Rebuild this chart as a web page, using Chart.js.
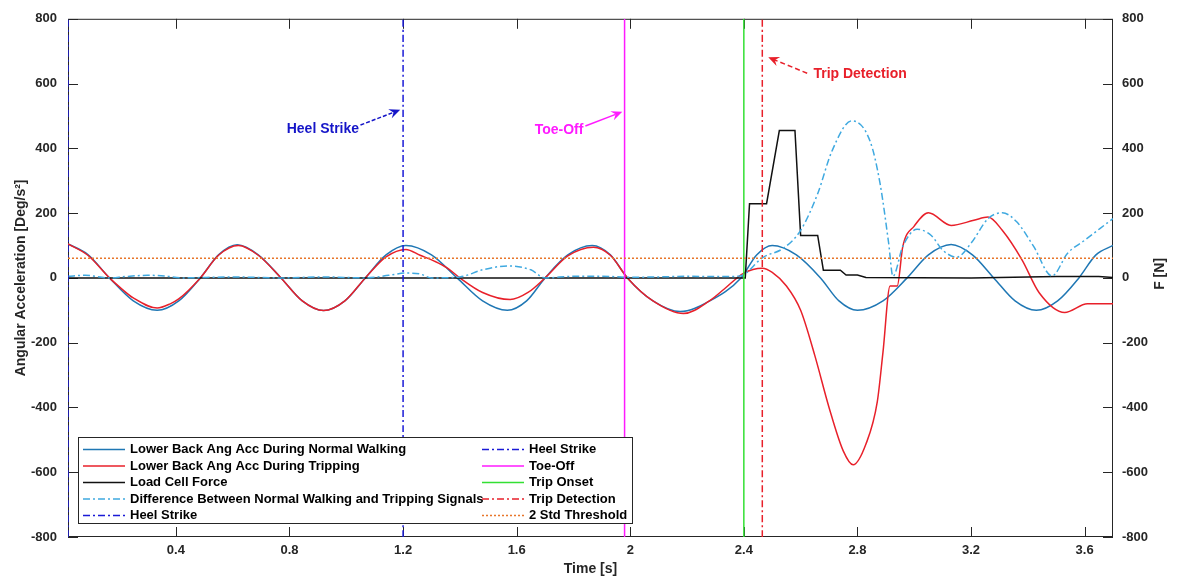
<!DOCTYPE html>
<html>
<head>
<meta charset="utf-8">
<script src="https://cdn.jsdelivr.net/npm/chart.js@4.4.1/dist/chart.umd.min.js"></script>
<style>
  html, body { margin: 0; padding: 0; background: #fff; }
  canvas { display: block; }
</style>
</head>
<body>
<canvas id="gaitChart" width="1178" height="581"></canvas>
<script>
// axis limits and ticks
const timeMin = 0.02;
const timeMax = 3.7;
const yMin = -800;
const yMax = 800;
const timeTicks = [0.4, 0.8, 1.2, 1.6, 2, 2.4, 2.8, 3.2, 3.6];

// lower back angular acceleration, normal walking
const normalTime = [0.02, 0.09, 0.166, 0.25, 0.334, 0.41, 0.486, 0.55, 0.616, 0.69, 0.77, 0.845, 0.92, 0.995,
  1.067, 1.14, 1.21, 1.30, 1.39, 1.48, 1.567, 1.635, 1.70, 1.78, 1.866, 1.93, 1.99, 2.08, 2.176, 2.28, 2.39,
  2.445, 2.50, 2.585, 2.67, 2.735, 2.80, 2.89, 2.975, 3.05, 3.13, 3.205, 3.28, 3.355, 3.43, 3.505, 3.58, 3.64, 3.70];
const normalAcc = [105, 72, 0, -71, -100, -71, 0, 71, 102, 71, 0, -71, -101, -71,
  0, 71, 100, 71, 0, -71, -100, -71, 0, 71, 100, 71, 0, -71, -104, -71, 0,
  71, 100, 71, 0, -71, -100, -71, 0, 71, 103, 71, 0, -71, -100, -71, 0, 71, 100];

// lower back angular acceleration, tripping
const tripTime = [0.02, 0.09, 0.166, 0.204, 0.25, 0.334, 0.38, 0.41, 0.486, 0.55, 0.62, 0.69, 0.77, 0.845, 0.92, 0.995,
  1.067, 1.14, 1.21, 1.26, 1.31, 1.355, 1.40, 1.48, 1.577, 1.64, 1.70, 1.78, 1.87, 1.93, 1.99, 2.08, 2.187, 2.28, 2.33,
  2.40, 2.465, 2.50, 2.55, 2.60, 2.65, 2.70, 2.75, 2.785, 2.83, 2.87, 2.89, 2.915, 2.94, 2.96, 3.00, 3.05, 3.13, 3.21, 3.26,
  3.31, 3.38, 3.44, 3.53, 3.61, 3.70];
const tripAcc = [105, 70, 0, -30, -62, -93, -80, -65, 0, 70, 100, 70, 0, -71, -101, -71,
  0, 65, 88, 70, 52, 31, 0, -45, -67, -45, 0, 68, 95, 70, 0, -71, -110, -70, -35,
  15, 30, 17, -25, -100, -240, -400, -534, -577, -513, -382, -229, -25, -25, 98, 160, 201, 162, 178, 188,
  147, 55, -46, -107, -80, -80];

// load cell force [N]
const forceTime = [0.02, 2.405, 2.42, 2.48, 2.525, 2.58, 2.60, 2.66, 2.68, 2.74, 2.76, 2.80, 2.83, 3.2, 3.5, 3.65, 3.70];
const forceN = [0, 0, 229, 229, 455, 455, 131, 131, 24, 24, 9, 9, 1, 0, 4, 4, 1];

// difference between normal walking and tripping
const diffTime = [0.02, 0.08, 0.166, 0.22, 0.30, 0.36, 0.42, 0.60, 0.77, 0.92, 1.067, 1.15, 1.21, 1.26, 1.30, 1.40,
  1.48, 1.57, 1.65, 1.70, 1.80, 1.90, 2.0, 2.1, 2.2, 2.3, 2.38, 2.40, 2.465, 2.54, 2.60, 2.66, 2.71, 2.78, 2.845,
  2.88, 2.91, 2.925, 2.96, 3.01, 3.06, 3.10, 3.15, 3.20, 3.26, 3.31, 3.36, 3.42, 3.485, 3.54, 3.60, 3.655, 3.70];
const diffAcc = [5, 8, 0, 4, 8, 6, 0, 3, 0, 3, 0, 8, 15, 12, 0, 3,
  25, 37, 25, 0, 5, 5, 2, 3, 5, 4, 5, 10, 62, 92, 147, 260, 391, 485, 421,
  290, 107, 5, 98, 150, 131, 86, 64, 107, 183, 201, 174, 98, 6, 76, 116, 153, 183];

// gait events [s] and threshold
const heelStrikeTimes = [0.02, 1.2];
const toeOffTime = 1.98;
const tripOnsetTime = 2.40;
const tripDetectionTime = 2.465;
const thresholdValue = 61;

const FONT = 'Arial, "Liberation Sans", sans-serif';
const AXIS_COLOR = '#262626';

function toPoints(xs, ys) {
  return xs.map((x, i) => ({ x, y: ys[i] }));
}

function vline(t) {
  return [{ x: t, y: yMin }, { x: t, y: yMax }];
}

function series(label, data, color, extra) {
  return Object.assign({
    label,
    data,
    borderColor: color,
    backgroundColor: color,
    borderWidth: 1.5,
    pointRadius: 0,
    fill: false,
    cubicInterpolationMode: 'monotone'
  }, extra || {});
}

const datasets = [
  series('Lower Back Ang Acc During Normal Walking', toPoints(normalTime, normalAcc), '#1f77b4'),
  series('Lower Back Ang Acc During Tripping', toPoints(tripTime, tripAcc), '#e8202a'),
  series('Load Cell Force', toPoints(forceTime, forceN), '#111111', { yAxisID: 'y1', cubicInterpolationMode: 'default', tension: 0 }),
  series('Difference Between Normal Walking and Tripping Signals', toPoints(diffTime, diffAcc), '#3fa9e0', { borderDash: [7, 3, 2, 3] }),
  series('Heel Strike', vline(heelStrikeTimes[0]), '#1a1ad6', { borderDash: [7, 3, 2, 3], tension: 0 }),
  series('Heel Strike', vline(heelStrikeTimes[1]), '#1a1ad6', { borderDash: [7, 3, 2, 3], tension: 0 }),
  series('Toe-Off', vline(toeOffTime), '#ff1aff', { tension: 0 }),
  series('Trip Onset', vline(tripOnsetTime), '#33e033', { tension: 0 }),
  series('Trip Detection', vline(tripDetectionTime), '#e8202a', { borderDash: [7, 3, 2, 3], tension: 0 }),
  series('2 Std Threshold', [{ x: timeMin, y: thresholdValue }, { x: timeMax, y: thresholdValue }], '#e8762a', { borderDash: [2, 2], tension: 0 })
];
// later datasets drawn on top, like the original plot
datasets.forEach((d, i) => { d.order = datasets.length - i; });

// text callouts: [text, color, textX, textY, align, tailX, tailY, tipX, tipY, dashed]
const callouts = [
  ['Heel Strike', '#1515c8', 1.045, 460, 'right', 1.05, 472, 1.19, 519, [4, 2]],
  ['Toe-Off', '#ff1aff', 1.835, 457, 'right', 1.842, 469, 1.972, 513, null],
  ['Trip Detection', '#e8202a', 2.645, 629, 'left', 2.623, 632, 2.486, 681, [5, 3]]
];

function drawArrow(ctx, x0, y0, x1, y1, color, dash) {
  const ang = Math.atan2(y1 - y0, x1 - x0);
  const head = 12;
  ctx.strokeStyle = color;
  ctx.fillStyle = color;
  ctx.lineWidth = 1.5;
  ctx.setLineDash(dash || []);
  ctx.beginPath();
  ctx.moveTo(x0, y0);
  ctx.lineTo(x1 - Math.cos(ang) * head * 0.6, y1 - Math.sin(ang) * head * 0.6);
  ctx.stroke();
  ctx.setLineDash([]);
  ctx.beginPath();
  ctx.moveTo(x1, y1);
  ctx.lineTo(x1 - head * Math.cos(ang - 0.42), y1 - head * Math.sin(ang - 0.42));
  ctx.lineTo(x1 - head * 0.6 * Math.cos(ang), y1 - head * 0.6 * Math.sin(ang));
  ctx.lineTo(x1 - head * Math.cos(ang + 0.42), y1 - head * Math.sin(ang + 0.42));
  ctx.closePath();
  ctx.fill();
}

const decorPlugin = {
  id: 'decor',
  beforeDatasetsDraw(chart) {
    const { ctx, chartArea: a, scales } = chart;
    ctx.save();
    // axes box and inward ticks, under the data
    ctx.strokeStyle = AXIS_COLOR;
    ctx.lineWidth = 1;
    ctx.strokeRect(a.left + 0.5, a.top + 0.5, a.width - 1, a.height - 1);
    ctx.beginPath();
    scales.x.ticks.forEach((t) => {
      const px = Math.round(scales.x.getPixelForValue(t.value)) + 0.5;
      ctx.moveTo(px, a.bottom); ctx.lineTo(px, a.bottom - 10);
      ctx.moveTo(px, a.top); ctx.lineTo(px, a.top + 10);
    });
    scales.y.ticks.forEach((t) => {
      const py = Math.round(scales.y.getPixelForValue(t.value)) + 0.5;
      ctx.moveTo(a.left, py); ctx.lineTo(a.left + 10, py);
      ctx.moveTo(a.right, py); ctx.lineTo(a.right - 10, py);
    });
    ctx.stroke();
    ctx.restore();
  },
  afterDatasetsDraw(chart) {
    const { ctx, scales } = chart;
    const xs = scales.x, ys = scales.y;
    ctx.save();
    callouts.forEach(([text, color, tx, ty, align, ax, ay, bx, by, dash]) => {
      ctx.font = 'bold 14px ' + FONT;
      ctx.fillStyle = color;
      ctx.textAlign = align;
      ctx.textBaseline = 'middle';
      ctx.fillText(text, xs.getPixelForValue(tx), ys.getPixelForValue(ty));
      drawArrow(ctx, xs.getPixelForValue(ax), ys.getPixelForValue(ay),
        xs.getPixelForValue(bx), ys.getPixelForValue(by), color, dash);
    });
    ctx.restore();
  },
  afterDraw(chart) {
    const { ctx, chartArea: a } = chart;
    ctx.save();
    // right axis title, reading bottom to top
    ctx.font = 'bold 14px ' + FONT;
    ctx.fillStyle = AXIS_COLOR;
    ctx.textAlign = 'center';
    ctx.textBaseline = 'middle';
    ctx.translate(1160, (a.top + a.bottom) / 2 - 4);
    ctx.rotate(-Math.PI / 2);
    ctx.fillText('F [N]', 0, 0);
    ctx.setTransform(1, 0, 0, 1, 0, 0);

    // legend, two columns filled top to bottom
    const box = { left: 78, top: 437, right: 632, bottom: 523 };
    ctx.fillStyle = '#fff';
    ctx.fillRect(box.left, box.top, box.right - box.left, box.bottom - box.top);
    ctx.strokeStyle = AXIS_COLOR;
    ctx.lineWidth = 1;
    ctx.strokeRect(box.left + 0.5, box.top + 0.5, box.right - box.left, box.bottom - box.top);
    ctx.font = 'bold 13px ' + FONT;
    ctx.textAlign = 'left';
    const rows = 5;
    const colX = [83, 482];
    chart.data.datasets.forEach((d, i) => {
      const col = Math.floor(i / rows);
      const row = i % rows;
      const y = box.top + 12.5 + row * 16.5;
      const x = colX[col];
      ctx.strokeStyle = d.borderColor;
      ctx.lineWidth = d.borderWidth;
      ctx.setLineDash(d.borderDash || []);
      ctx.beginPath();
      ctx.moveTo(x, y); ctx.lineTo(x + 42, y);
      ctx.stroke();
      ctx.setLineDash([]);
      ctx.fillStyle = '#000';
      ctx.fillText(d.label, x + 47, y);
    });
    ctx.restore();
  }
};

const tickFont = { family: FONT, size: 13, weight: 'bold' };

new Chart(document.getElementById('gaitChart'), {
  type: 'line',
  data: { datasets },
  options: {
    responsive: false,
    animation: false,
    layout: { padding: { top: 13, left: 0, right: 0, bottom: 0 } },
    plugins: { legend: { display: false }, tooltip: { enabled: false } },
    scales: {
      x: {
        type: 'linear',
        min: timeMin,
        max: timeMax,
        afterBuildTicks: (s) => { s.ticks = timeTicks.map((v) => ({ value: v })); },
        afterFit: (s) => { s.height = 44; },
        grid: { display: false, drawTicks: false },
        border: { display: false },
        ticks: { font: tickFont, color: AXIS_COLOR, padding: 6, maxRotation: 0, callback: (v) => String(v) },
        title: { display: true, text: 'Time [s]', font: { family: FONT, size: 14, weight: 'bold' }, color: AXIS_COLOR, padding: { top: 0, bottom: 3 } }
      },
      y: {
        position: 'left',
        min: yMin,
        max: yMax,
        afterFit: (s) => { s.width = 68; },
        grid: { display: false, drawTicks: false },
        border: { display: false },
        ticks: { stepSize: 200, font: tickFont, color: AXIS_COLOR, padding: 11 },
        title: { display: true, text: 'Angular Acceleration [Deg/s²]', font: { family: FONT, size: 14, weight: 'bold' }, color: AXIS_COLOR, padding: { top: 13, bottom: 0 } }
      },
      y1: {
        position: 'right',
        min: yMin,
        max: yMax,
        afterFit: (s) => { s.width = 65; },
        grid: { display: false, drawTicks: false },
        border: { display: false },
        ticks: { stepSize: 200, font: tickFont, color: AXIS_COLOR, padding: 9 }
      }
    }
  },
  plugins: [decorPlugin]
});
</script>
</body>
</html>
